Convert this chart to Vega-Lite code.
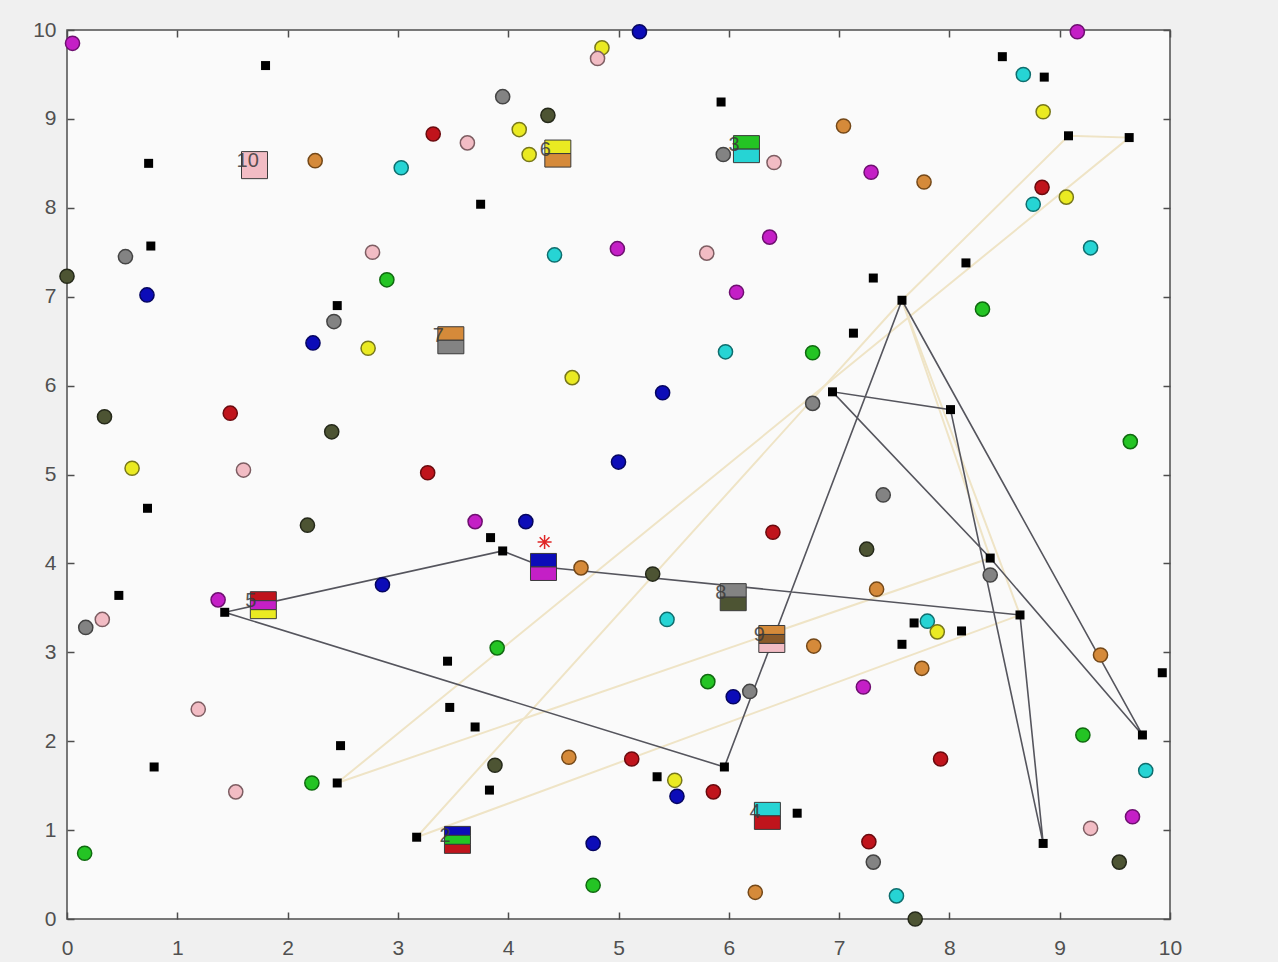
{
  "$schema": "https://vega.github.io/schema/vega-lite/v6.json",
  "width": 1103,
  "height": 889,
  "autosize": {"type": "none"},
  "padding": {"left": 67, "top": 30, "right": 108, "bottom": 43},
  "background": "#f0f0f0",
  "config": {
    "view": {"fill": "#fafafa", "stroke": "#4d4d4d", "strokeWidth": 1.5},
    "axis": {
      "domain": false,
      "grid": false,
      "ticks": true,
      "tickSize": -7,
      "tickWidth": 1.5,
      "tickColor": "#4d4d4d",
      "labelFont": "Liberation Sans",
      "labelFontSize": 21,
      "labelColor": "#505050",
      "labelFlush": false,
      "labelOverlap": false,
      "title": null
    }
  },
  "resolve": {"axis": {"x": "independent", "y": "independent"}},
  "datasets": {
    "dark": [
      {"r": "d", "o": 0, "x": 4.32, "y": 3.96},
      {"r": "d", "o": 1, "x": 3.95, "y": 4.14},
      {"r": "d", "o": 2, "x": 1.43, "y": 3.45},
      {"r": "d", "o": 3, "x": 5.96, "y": 1.71},
      {"r": "d", "o": 4, "x": 7.57, "y": 6.96},
      {"r": "d", "o": 5, "x": 9.75, "y": 2.07},
      {"r": "d", "o": 6, "x": 8.37, "y": 4.06},
      {"r": "d", "o": 7, "x": 6.94, "y": 5.93},
      {"r": "d", "o": 8, "x": 8.01, "y": 5.73},
      {"r": "d", "o": 9, "x": 8.85, "y": 0.85},
      {"r": "d", "o": 10, "x": 8.64, "y": 3.42},
      {"r": "d", "o": 11, "x": 4.32, "y": 3.96}
    ],
    "light": [
      {"r": "l1", "o": 0, "x": 7.57, "y": 6.96},
      {"r": "l1", "o": 1, "x": 9.08, "y": 8.81},
      {"r": "l1", "o": 2, "x": 9.63, "y": 8.79},
      {"r": "l1", "o": 3, "x": 2.45, "y": 1.53},
      {"r": "l1", "o": 4, "x": 8.37, "y": 4.06},
      {"r": "l1", "o": 5, "x": 7.57, "y": 6.96},
      {"r": "l2", "o": 0, "x": 7.57, "y": 6.96},
      {"r": "l2", "o": 1, "x": 3.17, "y": 0.92},
      {"r": "l2", "o": 2, "x": 8.64, "y": 3.42},
      {"r": "l2", "o": 3, "x": 7.57, "y": 6.96}
    ],
    "circles": [
      {"c": "magenta", "x": 0.05, "y": 9.85}, {"c": "magenta", "x": 4.99, "y": 7.54}, {"c": "magenta", "x": 6.37, "y": 7.67}, {"c": "magenta", "x": 6.07, "y": 7.05}, {"c": "magenta", "x": 9.16, "y": 9.98}, {"c": "magenta", "x": 7.29, "y": 8.40}, {"c": "magenta", "x": 1.37, "y": 3.59}, {"c": "magenta", "x": 3.70, "y": 4.47}, {"c": "magenta", "x": 7.22, "y": 2.61}, {"c": "magenta", "x": 9.66, "y": 1.15},
      {"c": "red", "x": 3.32, "y": 8.83}, {"c": "red", "x": 8.84, "y": 8.23}, {"c": "red", "x": 1.48, "y": 5.69}, {"c": "red", "x": 3.27, "y": 5.02}, {"c": "red", "x": 6.40, "y": 4.35}, {"c": "red", "x": 7.92, "y": 1.80}, {"c": "red", "x": 5.12, "y": 1.80}, {"c": "red", "x": 5.86, "y": 1.43}, {"c": "red", "x": 7.27, "y": 0.87},
      {"c": "blue", "x": 0.725, "y": 7.02}, {"c": "blue", "x": 5.19, "y": 9.98}, {"c": "blue", "x": 2.23, "y": 6.48}, {"c": "blue", "x": 5.40, "y": 5.92}, {"c": "blue", "x": 5.00, "y": 5.14}, {"c": "blue", "x": 4.16, "y": 4.47}, {"c": "blue", "x": 2.86, "y": 3.76}, {"c": "blue", "x": 6.04, "y": 2.50}, {"c": "blue", "x": 5.53, "y": 1.38}, {"c": "blue", "x": 4.77, "y": 0.85},
      {"c": "green", "x": 2.90, "y": 7.19}, {"c": "green", "x": 8.30, "y": 6.86}, {"c": "green", "x": 6.76, "y": 6.37}, {"c": "green", "x": 9.64, "y": 5.37}, {"c": "green", "x": 3.90, "y": 3.05}, {"c": "green", "x": 5.81, "y": 2.67}, {"c": "green", "x": 9.21, "y": 2.07}, {"c": "green", "x": 2.22, "y": 1.53}, {"c": "green", "x": 0.16, "y": 0.74}, {"c": "green", "x": 4.77, "y": 0.38},
      {"c": "cyan", "x": 3.03, "y": 8.45}, {"c": "cyan", "x": 4.42, "y": 7.47}, {"c": "cyan", "x": 8.67, "y": 9.50}, {"c": "cyan", "x": 8.76, "y": 8.04}, {"c": "cyan", "x": 9.28, "y": 7.55}, {"c": "cyan", "x": 5.97, "y": 6.38}, {"c": "cyan", "x": 5.44, "y": 3.37}, {"c": "cyan", "x": 7.80, "y": 3.35}, {"c": "cyan", "x": 9.78, "y": 1.67}, {"c": "cyan", "x": 7.52, "y": 0.26},
      {"c": "yellow", "x": 4.10, "y": 8.88}, {"c": "yellow", "x": 4.19, "y": 8.60}, {"c": "yellow", "x": 4.85, "y": 9.80}, {"c": "yellow", "x": 8.85, "y": 9.08}, {"c": "yellow", "x": 9.06, "y": 8.12}, {"c": "yellow", "x": 2.73, "y": 6.42}, {"c": "yellow", "x": 4.58, "y": 6.09}, {"c": "yellow", "x": 0.59, "y": 5.07}, {"c": "yellow", "x": 7.89, "y": 3.23}, {"c": "yellow", "x": 5.51, "y": 1.56},
      {"c": "pink", "x": 2.77, "y": 7.50}, {"c": "pink", "x": 3.63, "y": 8.73}, {"c": "pink", "x": 4.81, "y": 9.68}, {"c": "pink", "x": 6.41, "y": 8.51}, {"c": "pink", "x": 5.80, "y": 7.49}, {"c": "pink", "x": 1.60, "y": 5.05}, {"c": "pink", "x": 0.32, "y": 3.37}, {"c": "pink", "x": 1.19, "y": 2.36}, {"c": "pink", "x": 1.53, "y": 1.43}, {"c": "pink", "x": 9.28, "y": 1.02},
      {"c": "orange", "x": 2.25, "y": 8.53}, {"c": "orange", "x": 7.04, "y": 8.92}, {"c": "orange", "x": 7.77, "y": 8.29}, {"c": "orange", "x": 4.66, "y": 3.95}, {"c": "orange", "x": 7.34, "y": 3.71}, {"c": "orange", "x": 6.77, "y": 3.07}, {"c": "orange", "x": 9.37, "y": 2.97}, {"c": "orange", "x": 7.75, "y": 2.82}, {"c": "orange", "x": 4.55, "y": 1.82}, {"c": "orange", "x": 6.24, "y": 0.30},
      {"c": "gray", "x": 0.53, "y": 7.45}, {"c": "gray", "x": 2.42, "y": 6.72}, {"c": "gray", "x": 3.95, "y": 9.25}, {"c": "gray", "x": 5.95, "y": 8.60}, {"c": "gray", "x": 6.76, "y": 5.80}, {"c": "gray", "x": 7.40, "y": 4.77}, {"c": "gray", "x": 8.37, "y": 3.87}, {"c": "gray", "x": 6.19, "y": 2.56}, {"c": "gray", "x": 0.17, "y": 3.28}, {"c": "gray", "x": 7.31, "y": 0.64},
      {"c": "olive", "x": 0.00, "y": 7.23}, {"c": "olive", "x": 4.36, "y": 9.04}, {"c": "olive", "x": 0.34, "y": 5.65}, {"c": "olive", "x": 2.40, "y": 5.48}, {"c": "olive", "x": 2.18, "y": 4.43}, {"c": "olive", "x": 5.31, "y": 3.88}, {"c": "olive", "x": 7.25, "y": 4.16}, {"c": "olive", "x": 3.88, "y": 1.73}, {"c": "olive", "x": 9.54, "y": 0.64}, {"c": "olive", "x": 7.69, "y": 0.00}
    ],
    "blacks": [
      {"x": 1.80, "y": 9.60}, {"x": 0.74, "y": 8.50}, {"x": 0.76, "y": 7.57}, {"x": 2.45, "y": 6.90}, {"x": 0.73, "y": 4.62}, {"x": 0.47, "y": 3.64}, {"x": 1.43, "y": 3.45}, {"x": 3.75, "y": 8.04}, {"x": 5.93, "y": 9.19}, {"x": 3.84, "y": 4.29},
      {"x": 3.95, "y": 4.14}, {"x": 8.48, "y": 9.70}, {"x": 8.86, "y": 9.47}, {"x": 9.08, "y": 8.81}, {"x": 9.63, "y": 8.79}, {"x": 8.15, "y": 7.38}, {"x": 7.31, "y": 7.21}, {"x": 7.57, "y": 6.96}, {"x": 7.13, "y": 6.59}, {"x": 6.94, "y": 5.93},
      {"x": 8.01, "y": 5.73}, {"x": 8.37, "y": 4.06}, {"x": 8.64, "y": 3.42}, {"x": 7.68, "y": 3.33}, {"x": 8.11, "y": 3.24}, {"x": 7.57, "y": 3.09}, {"x": 9.93, "y": 2.77}, {"x": 9.75, "y": 2.07}, {"x": 8.85, "y": 0.85}, {"x": 5.96, "y": 1.71},
      {"x": 6.62, "y": 1.19}, {"x": 5.35, "y": 1.60}, {"x": 3.45, "y": 2.90}, {"x": 3.47, "y": 2.38}, {"x": 3.70, "y": 2.16}, {"x": 3.83, "y": 1.45}, {"x": 2.48, "y": 1.95}, {"x": 0.79, "y": 1.71}, {"x": 2.45, "y": 1.53}, {"x": 3.17, "y": 0.92}
    ],
    "labels": [
      {"t": "10", "x": 1.70, "y": 8.48}, {"t": "6", "x": 4.45, "y": 8.61}, {"t": "3", "x": 6.16, "y": 8.66}, {"t": "7", "x": 3.48, "y": 6.51}, {"t": "5", "x": 1.78, "y": 3.53},
      {"t": "8", "x": 6.04, "y": 3.62}, {"t": "9", "x": 6.39, "y": 3.15}, {"t": "4", "x": 6.35, "y": 1.16}, {"t": "2", "x": 3.54, "y": 0.89}
    ],
    "stripes": [
      {"g": "10", "n": 1, "c": "pink", "x": 1.70, "y": 8.48},
      {"g": "6", "n": 2, "c": "yellow", "x": 4.45, "y": 8.686}, {"g": "6", "n": 2, "c": "orange", "x": 4.45, "y": 8.534},
      {"g": "3", "n": 2, "c": "green", "x": 6.16, "y": 8.736}, {"g": "3", "n": 2, "c": "cyan", "x": 6.16, "y": 8.584},
      {"g": "7", "n": 2, "c": "orange", "x": 3.48, "y": 6.586}, {"g": "7", "n": 2, "c": "gray", "x": 3.48, "y": 6.434},
      {"g": "5", "n": 3, "c": "red", "x": 1.78, "y": 3.631}, {"g": "5", "n": 3, "c": "magenta", "x": 1.78, "y": 3.530}, {"g": "5", "n": 3, "c": "yellow", "x": 1.78, "y": 3.429},
      {"g": "1", "n": 2, "c": "blue", "x": 4.32, "y": 4.036}, {"g": "1", "n": 2, "c": "magenta", "x": 4.32, "y": 3.884},
      {"g": "8", "n": 2, "c": "gray", "x": 6.04, "y": 3.696}, {"g": "8", "n": 2, "c": "olive", "x": 6.04, "y": 3.544},
      {"g": "9", "n": 3, "c": "orange", "x": 6.39, "y": 3.251}, {"g": "9", "n": 3, "c": "brown", "x": 6.39, "y": 3.150}, {"g": "9", "n": 3, "c": "pink", "x": 6.39, "y": 3.049},
      {"g": "4", "n": 2, "c": "cyan", "x": 6.35, "y": 1.236}, {"g": "4", "n": 2, "c": "red", "x": 6.35, "y": 1.084},
      {"g": "2", "n": 3, "c": "blue", "x": 3.54, "y": 0.991}, {"g": "2", "n": 3, "c": "green", "x": 3.54, "y": 0.890}, {"g": "2", "n": 3, "c": "red", "x": 3.54, "y": 0.789}
    ],
    "star": [{"x": 4.33, "y": 4.24}]
  },
  "layer": [
    {
      "data": {"name": "light"},
      "mark": {"type": "line", "color": "#efe4c6", "strokeWidth": 2},
      "encoding": {
        "x": {"field": "x", "type": "quantitative", "scale": {"domain": [0, 10], "nice": false, "zero": false}, "axis": {"orient": "top", "values": [0,1,2,3,4,5,6,7,8,9,10], "labels": false}},
        "y": {"field": "y", "type": "quantitative", "scale": {"domain": [0, 10], "nice": false, "zero": false}, "axis": {"orient": "right", "values": [0,1,2,3,4,5,6,7,8,9,10], "labels": false}},
        "detail": {"field": "r"},
        "order": {"field": "o"}
      }
    },
    {
      "data": {"name": "dark"},
      "mark": {"type": "line", "color": "#55555d", "strokeWidth": 1.6},
      "encoding": {
        "x": {"field": "x", "type": "quantitative", "axis": {"orient": "bottom", "values": [0,1,2,3,4,5,6,7,8,9,10], "labelPadding": 25}},
        "y": {"field": "y", "type": "quantitative", "axis": {"orient": "left", "values": [0,1,2,3,4,5,6,7,8,9,10], "labelPadding": 18}},
        "detail": {"field": "r"},
        "order": {"field": "o"}
      }
    },
    {
      "data": {"name": "circles"},
      "mark": {"type": "point", "shape": "circle", "filled": true, "size": 200, "strokeWidth": 1.5, "opacity": 1},
      "encoding": {
        "x": {"field": "x", "type": "quantitative", "axis": null},
        "y": {"field": "y", "type": "quantitative", "axis": null},
        "fill": {"field": "c", "type": "nominal", "legend": null, "scale": {
          "domain": ["magenta","red","blue","green","cyan","yellow","pink","orange","gray","olive","brown"],
          "range": ["#c41fc6","#c0141c","#0c0cb8","#24c424","#26d4d4","#eaea22","#f2bcc4","#d58a3a","#838383","#4d5433","#8a5a2a"]}},
        "stroke": {"field": "c", "type": "nominal", "legend": null, "scale": {
          "domain": ["magenta","red","blue","green","cyan","yellow","pink","orange","gray","olive","brown"],
          "range": ["#6e0f70","#6a0a0e","#050560","#0f6a0f","#0e6e6e","#77771a","#7d5d62","#744818","#444444","#25291a","#4a2e12"]}}
      }
    },
    {
      "data": {"name": "blacks"},
      "mark": {"type": "point", "shape": "square", "filled": true, "size": 81, "color": "#000000", "opacity": 1},
      "encoding": {
        "x": {"field": "x", "type": "quantitative", "axis": null},
        "y": {"field": "y", "type": "quantitative", "axis": null}
      }
    },
    {
      "data": {"name": "stripes"},
      "mark": {"type": "point", "filled": true, "size": 676, "stroke": "#3a3a3a", "strokeWidth": 1, "opacity": 1},
      "encoding": {
        "x": {"field": "x", "type": "quantitative", "axis": null},
        "y": {"field": "y", "type": "quantitative", "axis": null},
        "shape": {"field": "n", "type": "nominal", "legend": null, "scale": {"domain": [1, 2, 3], "range": ["M-1,-1.04H1V1.04H-1Z", "M-1,-0.52H1V0.52H-1Z", "M-1,-0.346H1V0.346H-1Z"]}},
        "fill": {"field": "c", "type": "nominal", "legend": null}
      }
    },
    {
      "data": {"name": "labels"},
      "mark": {"type": "text", "align": "left", "baseline": "middle", "dx": -18, "dy": -4, "fontSize": 20, "font": "Liberation Sans", "color": "#3a3a3a", "opacity": 0.85},
      "encoding": {
        "x": {"field": "x", "type": "quantitative", "axis": null},
        "y": {"field": "y", "type": "quantitative", "axis": null},
        "text": {"field": "t"}
      }
    },
    {
      "data": {"name": "star"},
      "mark": {"type": "point", "filled": false, "size": 196, "stroke": "#e02525", "strokeWidth": 1.5, "opacity": 1, "shape": "M-1,0H1M0,-1V1M-0.7,-0.7L0.7,0.7M-0.7,0.7L0.7,-0.7"},
      "encoding": {
        "x": {"field": "x", "type": "quantitative", "axis": null},
        "y": {"field": "y", "type": "quantitative", "axis": null}
      }
    }
  ]
}
